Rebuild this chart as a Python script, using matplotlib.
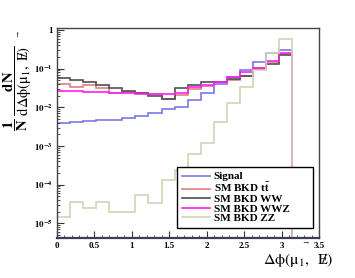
import numpy as np
import matplotlib
matplotlib.use("Agg")
import matplotlib.pyplot as plt
from matplotlib.ticker import LogLocator, MultipleLocator, FuncFormatter, NullFormatter

plt.rcParams['font.family'] = ['Liberation Serif', 'DejaVu Serif']
plt.rcParams['mathtext.fontset'] = 'stix'
plt.rcParams['mathtext.default'] = 'rm'

# 18 bins of delta phi between 0 and pi
edges = np.linspace(0, np.pi, 19)

signal = [0.0039, 0.0041, 0.0044, 0.0046, 0.0048, 0.0052, 0.0058, 0.0072, 0.0089,
          0.0104, 0.0155, 0.0234, 0.040, 0.060, 0.092, 0.149, 0.249, 0.304]
ttbar = [0.040, 0.034, 0.037, 0.0316, 0.0234, 0.0244, 0.023, 0.0217, 0.0164,
         0.0208, 0.0292, 0.0356, 0.046, 0.0508, 0.0645, 0.102, 0.151, 0.239]
ww = [0.0563, 0.0508, 0.0459, 0.0377, 0.031, 0.0264, 0.023, 0.020, 0.0164,
      0.031, 0.0377, 0.0443, 0.046, 0.054, 0.0645, 0.096, 0.132, 0.226]
wwz = [0.0269, 0.0264, 0.0253, 0.0244, 0.0234, 0.023, 0.0225, 0.0221, 0.0221,
       0.0239, 0.0329, 0.0377, 0.046, 0.0619, 0.0834, 0.106, 0.161, 0.249]
zz = [1.48e-5, 3.48e-5, 2.44e-5, 3.48e-5, 1.95e-5, 1.95e-5, 5.38e-5, 3.44e-5, 1.32e-4,
      2.4e-4, 6.08e-4, 1.17e-3, 4.17e-3, 0.0127, 0.0329, 0.0922, 0.259, 0.585]

labels = ["Signal", r"SM BKD t$\mathbf{\bar{t}}$", "SM BKD WW", "SM BKD WWZ", "SM BKD ZZ"]
colors = ["#7878e8", "#e08080", "#505050", "#ff20f0", "#d6d2b8"]

fig = plt.figure(figsize=(3.55, 2.78), dpi=100)
ax = fig.add_axes([0.1606, 0.1439, 0.738, 0.7565])

for vals, c, lab in zip([signal, ttbar, ww, wwz, zz], colors, labels):
    ax.stairs(vals, edges, baseline=1e-8, color=c, lw=1.2, label=lab)

ax.set_yscale('log')
ax.set_xlim(0, 3.5)
ax.set_ylim(4.17e-6, 1.147)

ax.xaxis.set_major_locator(MultipleLocator(0.5))
ax.xaxis.set_minor_locator(MultipleLocator(0.1))
ax.xaxis.set_major_formatter(FuncFormatter(lambda v, p: "%g" % v))
ax.yaxis.set_major_locator(LogLocator(base=10, numticks=10))
ax.yaxis.set_minor_locator(LogLocator(base=10, subs=np.arange(2, 10), numticks=20))
ax.yaxis.set_minor_formatter(NullFormatter())
ax.yaxis.set_major_formatter(FuncFormatter(
    lambda v, p: "1" if abs(v - 1) < 1e-9 else r"$\mathbf{10^{%d}}$" % round(np.log10(v))))

ax.tick_params(which='both', direction='in', top=False, right=False, color='#333333')
ax.tick_params(which='major', length=5, width=0.8, labelsize=6.5, pad=3)
ax.tick_params(which='minor', length=2.5, width=0.6)
for t in ax.get_xticklabels() + ax.get_yticklabels():
    t.set_fontweight('bold')

for s in ax.spines.values():
    s.set_color('#444444')
    s.set_linewidth(1.0)
ax.spines['bottom'].set_color('#3c3c58')
ax.spines['bottom'].set_linewidth(1.6)

# legend box stretched over the same area as in the original
leg = ax.legend(loc='upper left', mode='expand',
                bbox_to_anchor=(177 / 355, 1 - 228.3 / 278, 136 / 355, 61.6 / 278),
                bbox_transform=fig.transFigure, prop={'weight': 'bold', 'size': 8.0},
                frameon=True, fancybox=False, edgecolor='black', framealpha=1,
                borderaxespad=0, borderpad=0.45, handlelength=2.5, handletextpad=0.35,
                labelspacing=-0.02)
leg.get_frame().set_linewidth(1.0)

# axis titles
fig.text(298 / 355, 1 - 260 / 278, r"$\Delta\phi(\mu_{1},\;\; E\!\!\!/)$", fontsize=11.5,
         ha='center', va='center')
fig.text(305 / 355, 1 - 242 / 278, "\u2192", fontsize=6, ha='center', va='center')
fig.text(18 / 355, 1 - 88 / 278,
         r"$\mathbf{\dfrac{1}{N}}\ \dfrac{\mathbf{dN}}{d\Delta\phi(\mu_{1},\ E\!\!\!/)}$",
         fontsize=10.5, rotation=90, ha='center', va='center')
fig.text(17 / 355, 1 - 33 / 278, "\u2192", fontsize=6, rotation=90, ha='center', va='center')

fig.savefig("out.png", dpi=100)
